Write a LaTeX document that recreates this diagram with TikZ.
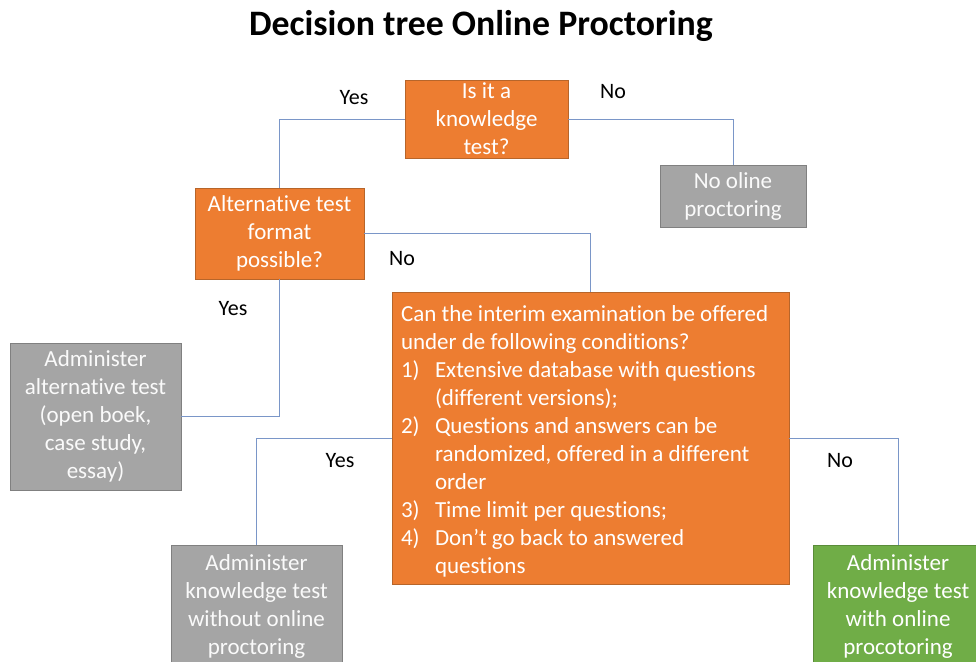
\documentclass[tikz,border=0pt]{standalone}
\usepackage{fontspec}
\setmainfont{Carlito}[Ligatures={NoCommon}]
\definecolor{orfill}{HTML}{ED7D31}
\definecolor{ordraw}{HTML}{B7652A}
\definecolor{grfill}{HTML}{A5A5A5}
\definecolor{grdraw}{HTML}{808080}
\definecolor{gnfill}{HTML}{70AD47}
\definecolor{gndraw}{HTML}{5A8C39}
\definecolor{conn}{HTML}{7A96C8}
\newcommand\boxfont{\fontsize{23}{28}\selectfont}
\newcommand\lblfont{\fontsize{22}{26}\selectfont}
\newcommand\ttlfont{\fontsize{35.8}{40}\selectfont\bfseries}
\newcommand\itm[1]{\makebox[34pt][l]{#1}}
\newcommand\ind{\hspace*{34pt}}
\tikzset{
  box/.style={draw, line width=0.8pt, align=center, font=\boxfont, text=white, inner sep=2pt, anchor=center},
  orangebox/.style={box, fill=orfill, draw=ordraw},
  graybox/.style={box, fill=grfill, draw=grdraw, text=white!96!gray},
  greenbox/.style={box, fill=gnfill, draw=gndraw},
  connector/.style={draw=conn, line width=0.9pt},
  lbl/.style={font=\lblfont, text=black, inner sep=0pt, anchor=center}
}
\begin{document}
\begin{tikzpicture}[x=1pt,y=-1pt]
\useasboundingbox (0,0) rectangle (976,661);
\node[font=\ttlfont, inner sep=0pt] (title) at (481,26) {Decision tree Online Proctoring};

\node[orangebox, minimum width=163pt, minimum height=78pt] (b1) at (486.5,119) {Is it a\\knowledge\\test?};
\node[orangebox, minimum width=169pt, minimum height=91pt] (b2) at (279.5,233.5) {Alternative test\\format\\possible?};
\node[graybox, minimum width=146pt, minimum height=62pt] (b3) at (733,196) {No oline\\proctoring};
\node[orangebox, minimum width=397pt, minimum height=292pt, text width=379pt, inner xsep=9pt, align=flush left] (b4) at (590.5,438) {%
\rule{0pt}{7pt}\par
\begin{tabular}{@{}l@{}}
Can the interim examination be offered\\
under de following conditions?\\
\itm{1)}Extensive database with questions\\
\ind(different versions);\\
\itm{2)}Questions and answers can be\\
\ind randomized, offered in a different\\
\ind order\\
\itm{3)}Time limit per questions;\\
\itm{4)}Don’t go back to answered\\
\ind questions
\end{tabular}};
\node[graybox, minimum width=171pt, minimum height=147pt] (b5) at (95.5,416.5) {Administer\\alternative test\\(open boek,\\case study,\\essay)};
\node[graybox, minimum width=171pt, minimum height=122pt] (b6) at (256.5,606) {Administer\\knowledge test\\without online\\proctoring};
\node[greenbox, minimum width=170pt, minimum height=122pt] (b7) at (898,606) {Administer\\knowledge test\\with online\\procotoring};

\draw[connector] (b1.west) -| (b2.north);
\draw[connector] (b1.east) -| (b3.north);
\draw[connector] (b2.east) -| (b4.north);
\draw[connector] (b2.south) |- (b5.east);
\draw[connector] (b4.west) -| (b6.north);
\draw[connector] (b4.east) -| (b7.north);

\node[lbl] (l1) at (354,98) {Yes};
\node[lbl] (l2) at (613,92) {No};
\node[lbl] (l3) at (402,259) {No};
\node[lbl] (l4) at (233,309) {Yes};
\node[lbl] (l5) at (340,461) {Yes};
\node[lbl] (l6) at (840,461) {No};
\end{tikzpicture}
\end{document}
